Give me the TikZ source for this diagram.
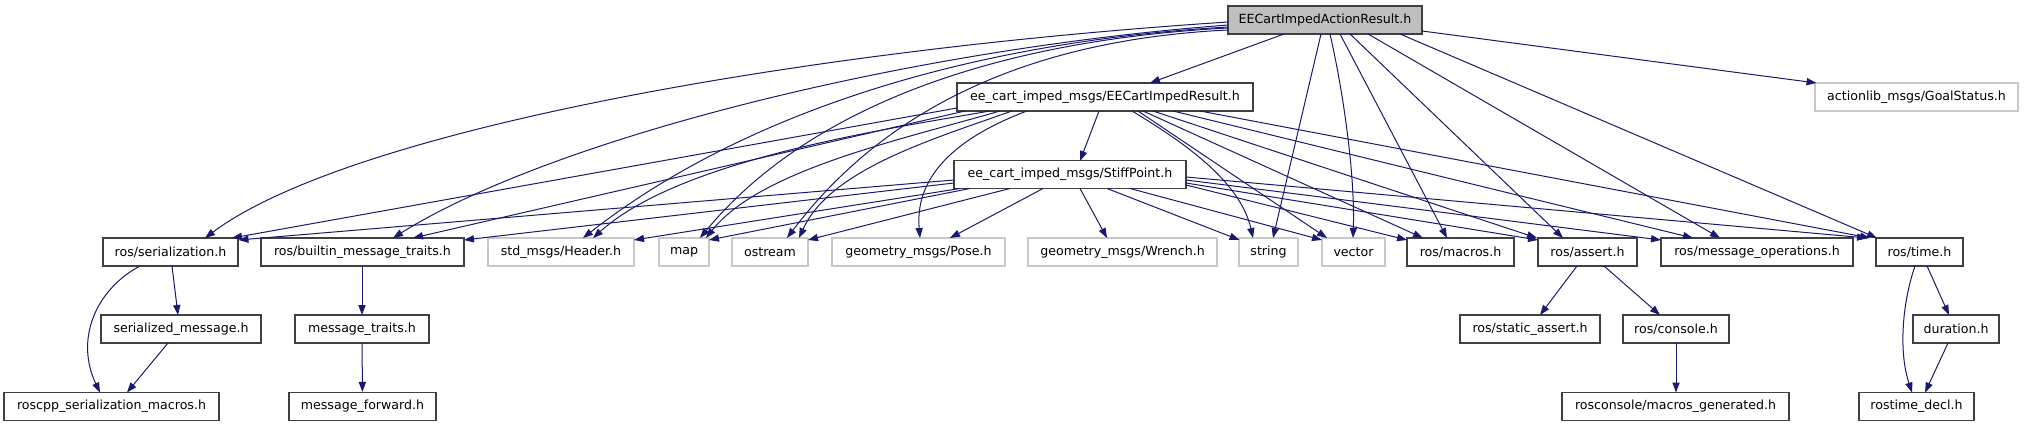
\documentclass[tikz,border=0pt]{standalone}
\usepackage{fontspec}
\setmainfont{DejaVu Sans}
\usetikzlibrary{arrows.meta,calc}
\definecolor{edgeblue}{HTML}{191970}
\definecolor{boxgray}{HTML}{BFBFBF}
\definecolor{boxline}{HTML}{404040}
\definecolor{ghostline}{HTML}{C8C8C8}
\begin{document}
\begin{tikzpicture}[x=0.5pt,y=-0.5pt,
  every node/.style={font=\fontsize{6.3pt}{7pt}\selectfont, inner sep=0pt, minimum height=14pt, rectangle},
  box/.style={draw=boxline, line width=0.6pt, fill=white},
  ghost/.style={draw=ghostline, line width=0.6pt, fill=white},
  root/.style={draw=boxline, line width=0.6pt, fill=boxgray},
  edge/.style={draw=edgeblue, line width=0.5pt, -{Triangle[length=5pt,width=3.6pt]}}
]
\useasboundingbox (0,0) rectangle (2027,427);
% row 0
\node[root, minimum width=97pt] (R) at (1325,20) {EECartImpedActionResult.h};
% row 1
\node[box, minimum width=148pt] (ER) at (1105,97) {ee\_cart\_imped\_msgs/EECartImpedResult.h};
\node[ghost, minimum width=101.5pt] (AG) at (1916.5,97) {actionlib\_msgs/GoalStatus.h};
% row 2
\node[box, minimum width=116pt] (SP) at (1070,174.5) {ee\_cart\_imped\_msgs/StiffPoint.h};
% row 3
\node[box, minimum width=67.5pt] (ser) at (170.5,252) {ros/serialization.h};
\node[box, minimum width=101.5pt] (bmt) at (362.5,252) {ros/builtin\_message\_traits.h};
\node[ghost, minimum width=73pt] (hdr) at (561,252) {std\_msgs/Header.h};
\node[ghost, minimum width=25pt] (map) at (684,252) {map};
\node[ghost, minimum width=38pt] (ost) at (770,252) {ostream};
\node[ghost, minimum width=86.5pt] (pose) at (918.5,252) {geometry\_msgs/Pose.h};
\node[ghost, minimum width=94.5pt] (wr) at (1122.5,252) {geometry\_msgs/Wrench.h};
\node[ghost, minimum width=29.5pt] (str) at (1268.5,252) {string};
\node[ghost, minimum width=31.5pt] (vec) at (1353.5,252) {vector};
\node[box, minimum width=53.5pt] (mac) at (1460.5,252) {ros/macros.h};
\node[box, minimum width=49.5pt] (ast) at (1587.5,252) {ros/assert.h};
\node[box, minimum width=96pt] (mop) at (1757,252) {ros/message\_operations.h};
\node[box, minimum width=43.5pt] (tim) at (1919.5,252) {ros/time.h};
% row 4
\node[box, minimum width=80pt] (sm) at (181,329) {serialized\_message.h};
\node[box, minimum width=67pt] (mt) at (362,329) {message\_traits.h};
\node[box, minimum width=70pt] (sa) at (1530,329) {ros/static\_assert.h};
\node[box, minimum width=53pt] (con) at (1676,329) {ros/console.h};
\node[box, minimum width=43pt] (dur) at (1956,329) {duration.h};
% row 5
\node[box, minimum width=107.5pt] (rsm) at (111.5,406.5) {roscpp\_serialization\_macros.h};
\node[box, minimum width=73.5pt] (mf) at (362.5,406.5) {message\_forward.h};
\node[box, minimum width=113.5pt] (rmg) at (1675.5,406.5) {rosconsole/macros\_generated.h};
\node[box, minimum width=57.5pt] (rtd) at (1916.5,406.5) {rostime\_decl.h};

% edges from R
\draw[edge] ($(R)+(-41,14)$) -- ($(ER)+(45,-14)$);
\draw[edge] ($(R)+(97,11)$) -- ($(AG)+(-100,-14)$);
\draw[edge] ($(R)+(-97,2)$) .. controls (800,50) and (350,130) .. ($(ser)+(34.5,-14)$);
\draw[edge] ($(R)+(-97,5)$) .. controls (900,50) and (550,140) .. ($(bmt)+(30.5,-14)$);
\draw[edge] ($(R)+(-97,7)$) .. controls (1000,40) and (760,100) .. ($(hdr)+(22,-14)$);
\draw[edge] ($(R)+(-97,8)$) .. controls (1000,40) and (810,105) .. ($(map)+(16,-14)$);
\draw[edge] ($(R)+(-97,10)$) .. controls (1020,40) and (880,115) .. ($(ost)+(17,-14)$);
\draw[edge] ($(R)+(-4,14)$) -- ($(str)+(4.5,-14)$);
\draw[edge] ($(R)+(5,14)$) .. controls (1345,100) and (1355,180) .. ($(vec)+(-0.5,-14)$);
\draw[edge] ($(R)+(15,14)$) -- ($(mac)+(-13.5,-14)$);
\draw[edge] ($(R)+(25,14)$) -- ($(ast)+(-24.5,-14)$);
\draw[edge] ($(R)+(43,14)$) -- ($(mop)+(-37,-14)$);
\draw[edge] ($(R)+(75,14)$) -- ($(tim)+(-42.5,-14)$);

% edges from ER
\draw[edge] ($(ER)+(-6,14)$) -- ($(SP)+(10,-13.5)$);
\draw[edge] ($(ER)+(-148,11)$) -- ($(ser)+(61.5,-14)$);
\draw[edge] ($(ER)+(-140,14)$) -- ($(bmt)+(50.5,-14)$);
\draw[edge] ($(ER)+(-115,14)$) .. controls (880,130) and (680,160) .. ($(hdr)+(32,-14)$);
\draw[edge] ($(ER)+(-105,14)$) .. controls (900,140) and (760,170) .. ($(map)+(22,-14)$);
\draw[edge] ($(ER)+(-93,14)$) .. controls (930,140) and (830,170) .. ($(ost)+(29,-14)$);
\draw[edge] ($(ER)+(-78,14)$) .. controls (950,140) and (915,180) .. ($(pose)+(1.5,-14)$);
\draw[edge] ($(ER)+(27,14)$) .. controls (1180,140) and (1240,180) .. ($(str)+(-15.5,-14)$);
\draw[edge] ($(ER)+(33,14)$) -- ($(vec)+(-26.5,-14)$);
\draw[edge] ($(ER)+(38,14)$) -- ($(mac)+(-37.5,-14)$);
\draw[edge] ($(ER)+(48,14)$) -- ($(ast)+(-50.5,-14)$);
\draw[edge] ($(ER)+(68,14)$) -- ($(mop)+(-64,-14)$);
\draw[edge] ($(ER)+(95,14)$) -- ($(tim)+(-49.5,-14)$);

% edges from SP
\draw[edge] ($(SP)+(-116,5.5)$) -- ($(ser)+(68,-12)$);
\draw[edge] ($(SP)+(-116,8.5)$) -- ($(bmt)+(101.5,-12)$);
\draw[edge] ($(SP)+(-110,14)$) -- ($(hdr)+(73,-12)$);
\draw[edge] ($(SP)+(-100,14)$) -- ($(map)+(25,-12)$);
\draw[edge] ($(SP)+(-60,14)$) -- ($(ost)+(38,-12)$);
\draw[edge] ($(SP)+(-27,14)$) -- ($(pose)+(31.5,-14)$);
\draw[edge] ($(SP)+(10,14)$) -- ($(wr)+(-15.5,-14)$);
\draw[edge] ($(SP)+(37,14)$) -- ($(str)+(-29,-12)$);
\draw[edge] ($(SP)+(60,14)$) -- ($(vec)+(-31.5,-12)$);
\draw[edge] ($(SP)+(116,10.5)$) -- ($(mac)+(-53.5,-12)$);
\draw[edge] ($(SP)+(116,8.5)$) -- ($(ast)+(-49.5,-12)$);
\draw[edge] ($(SP)+(116,5.5)$) -- ($(mop)+(-96,-12)$);
\draw[edge] ($(SP)+(116,2.5)$) -- ($(tim)+(-52.5,-14)$);

% lower edges
\draw[edge] ($(ser)+(1.5,14)$) -- ($(sm)+(-3,-14)$);
\draw[edge] ($(ser)+(-30.5,14)$) .. controls (95,290) and (75,340) .. ($(rsm)+(-11.5,-14)$);
\draw[edge] ($(sm)+(-13,14)$) -- ($(rsm)+(15.5,-14)$);
\draw[edge] ($(bmt)+(-0.5,14)$) -- ($(mt)+(0,-14)$);
\draw[edge] (mt) -- (mf);
\draw[edge] ($(ast)+(-10.5,14)$) -- ($(sa)+(10,-14)$);
\draw[edge] ($(ast)+(16.5,14)$) -- ($(con)+(-16,-14)$);
\draw[edge] ($(con)+(0,14)$) -- ($(rmg)+(0.5,-14)$);
\draw[edge] ($(tim)+(-4.5,14)$) .. controls (1903,300) and (1898,350) .. ($(rtd)+(-4.5,-14)$);
\draw[edge] ($(tim)+(7.5,14)$) -- ($(dur)+(-7,-14)$);
\draw[edge] ($(dur)+(-8,14)$) -- ($(rtd)+(8.5,-14)$);
\end{tikzpicture}
\end{document}
